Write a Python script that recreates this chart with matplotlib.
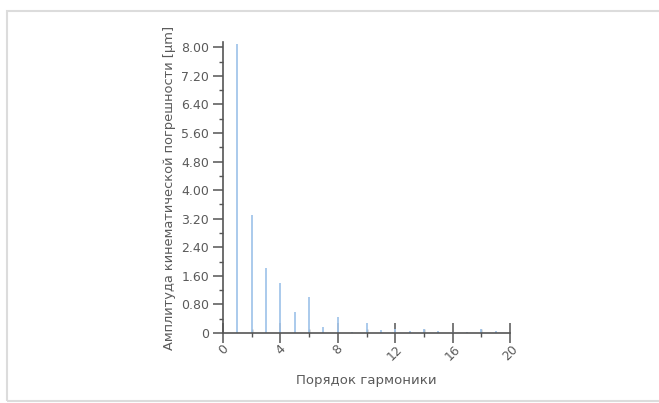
import matplotlib.pyplot as plt
from matplotlib.patches import Rectangle
from matplotlib.ticker import FuncFormatter, MultipleLocator

# harmonic order and amplitude of kinematic error (um)
harmonics = list(range(1, 20))
amplitudes = [8.1, 3.3, 1.82, 1.4, 0.59, 1.0, 0.18, 0.44, 0.03, 0.28,
              0.08, 0.12, 0.05, 0.12, 0.05, 0.04, 0.02, 0.1, 0.05]

x_ticks = [0, 4, 8, 12, 16, 20]
y_ticks = [0, 0.8, 1.6, 2.4, 3.2, 4.0, 4.8, 5.6, 6.4, 7.2, 8.0]

text_c = '#5a5a5a'
axis_c = '#555555'
bar_c = '#a4c6ea'

fig = plt.figure(figsize=(6.59, 4.03), dpi=100)
# light frame around the picture
fig.patches.append(Rectangle((7 / 659, 2 / 403), 660 / 659, 390 / 403,
                             transform=fig.transFigure, fill=False,
                             edgecolor='#dcdcdc', linewidth=1.5))

ax = fig.add_axes([223 / 659, 70 / 403, 287 / 659, 291 / 403])
ax.vlines(harmonics, 0, amplitudes, color=bar_c, linewidth=1.3)

ax.set_xlim(0, 20)
ax.set_ylim(0, 8.15)
ax.set_xticks(x_ticks)
ax.xaxis.set_minor_locator(MultipleLocator(2))
ax.set_yticks(y_ticks)
ax.yaxis.set_minor_locator(MultipleLocator(0.4))
ax.yaxis.set_major_formatter(FuncFormatter(lambda v, p: '0' if v == 0 else f'{v:.2f}'))

for s in ['top', 'right']:
    ax.spines[s].set_visible(False)
for s in ['left', 'bottom']:
    ax.spines[s].set_color(axis_c)
    ax.spines[s].set_linewidth(1.2)

ax.tick_params(axis='y', which='major', length=7, width=1.1, color=axis_c,
               labelcolor=text_c, labelsize=9, pad=3)
ax.tick_params(axis='y', which='minor', length=3, width=1.0, color=axis_c)
ax.tick_params(axis='x', which='major', direction='inout', length=14, width=1.1,
               color=axis_c, labelcolor=text_c, labelsize=9, pad=0)
ax.tick_params(axis='x', which='minor', direction='inout', length=6, width=1.0,
               color=axis_c)
for lbl in ax.get_xticklabels():
    lbl.set_rotation(45)
    lbl.set_ha('center')
    lbl.set_va('top')

ax.set_xlabel('Порядок гармоники', color=text_c, fontsize=9.5, labelpad=8)
ax.set_ylabel('Амплитуда кинематической погрешности [μm]', color=text_c,
              fontsize=9.4, labelpad=4)

fig.savefig('out.png', dpi=100)
